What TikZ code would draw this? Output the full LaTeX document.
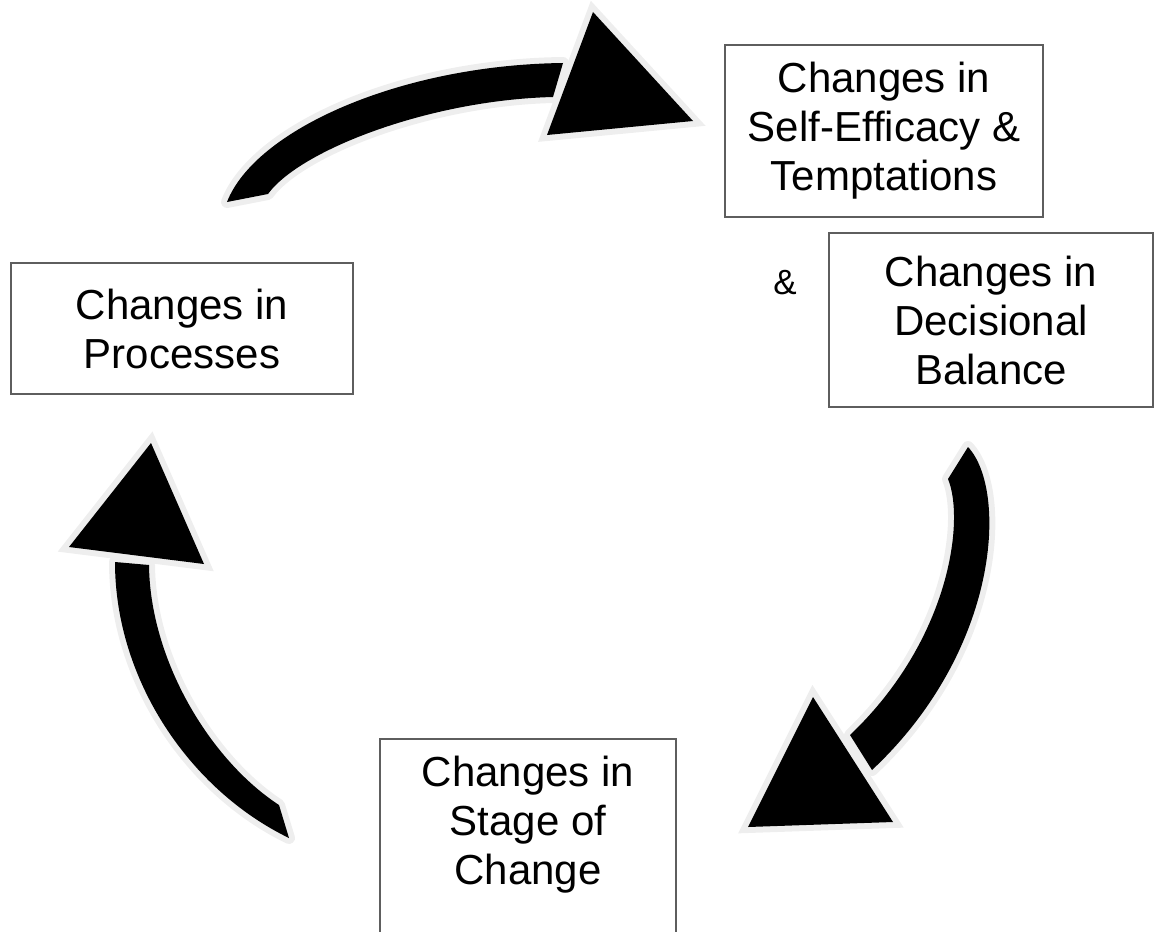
\documentclass[tikz,border=0pt]{standalone}
\usepackage{fontspec}
\setmainfont{Liberation Sans}
\definecolor{halo}{HTML}{EEEEEE}
\definecolor{boxline}{HTML}{5E5E5E}
\begin{document}
\begin{tikzpicture}[x=1pt,y=-1pt,
  box/.style={draw=boxline, line width=1.6pt, fill=white, inner sep=0pt, align=center,
              font=\fontsize{42}{49}\selectfont},
  lbl/.style={align=center, inner sep=0pt, font=\fontsize{42}{49}\selectfont},
  shaft/.style={fill=black, preaction={draw=halo, line width=12pt, line join=round}},
  head/.style={fill=black, preaction={draw=halo, line width=12pt, line join=miter}}]
\useasboundingbox (0,0) rectangle (1155,931);
\clip (0,0) rectangle (1155,931);

% boxes
\node[box, minimum width=318pt, minimum height=172pt] (selfeff) at (884,131)
  {Changes in\\Self-Efficacy \&\\Temptations};
\node[box, minimum width=324pt, minimum height=174pt] (decis) at (991,320)
  {Changes in\\Decisional\\Balance};
\node[box, minimum width=342pt, minimum height=131pt] (proc) at (182,328.5)
  {Changes in\\Processes};
\node[box, minimum width=296pt, minimum height=240pt, anchor=north] (stage) at (528,738) {};
\node[lbl] (stagetext) at (528,825) {Changes in\\Stage of\\Change};
\node[inner sep=0pt, font=\fontsize{35}{40}\selectfont] (amp) at (785,283) {\&};

% top arrow
\path[shaft] (227,202) .. controls (255,130) and (400,65) .. (563,63)
  -- (553,97) .. controls (430,100) and (300,150) .. (268,194) -- cycle;
\path[head] (593,12) -- (693,121) -- (547,135) -- cycle;

% right arrow
\path[shaft] (968,447) .. controls (1008,490) and (1000,650) .. (872,770)
  -- (850,735) .. controls (950,640) and (965,520) .. (948,479) -- cycle;
\path[head] (813,697) -- (893,822) -- (748,827) -- cycle;

% left arrow
\path[shaft] (115,562) .. controls (115,680) and (190,790) .. (289,838)
  -- (279,805) .. controls (210,760) and (150,660) .. (149,565) -- cycle;
\path[head] (151,443) -- (204,564) -- (69,547) -- cycle;
\end{tikzpicture}
\end{document}
